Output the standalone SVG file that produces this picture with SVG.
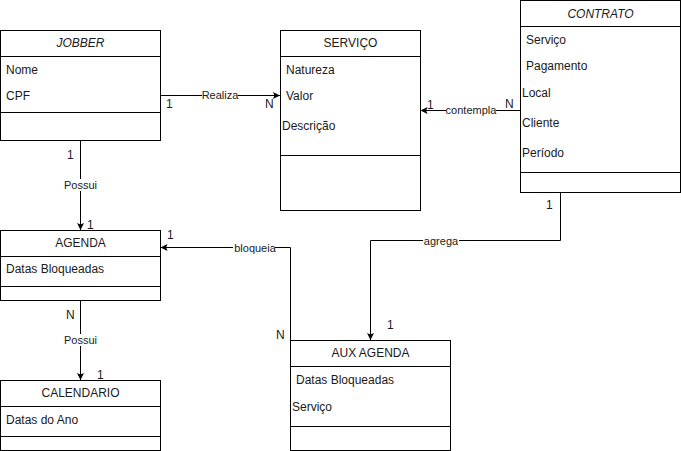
<svg xmlns="http://www.w3.org/2000/svg" width="681" height="451" viewBox="0 0 681 451">
<defs>
<marker id="arr" viewBox="0 0 10 10" refX="10" refY="5" markerWidth="7" markerHeight="7" markerUnits="userSpaceOnUse" orient="auto">
<path d="M0,0 L10,5 L0,10 L2,5 Z" fill="#000"/>
</marker>
<style>
.box{fill:#fff;stroke:#000;stroke-width:1}
.div{stroke:#000;stroke-width:1}
text{font-family:"Liberation Sans",Arial,sans-serif;font-size:12px;fill:#1a1a1a}
.t{text-anchor:middle}
.i{font-style:italic}
.lbl{font-size:11px;text-anchor:middle}
.edge{fill:none;stroke:#000;stroke-width:1}
.bg{fill:#fff}
</style>
</defs>
<rect width="681" height="451" fill="#fff"/>
<g id="connectors">
<path class="edge" d="M160.5,95.5 H280" marker-end="url(#arr)"/>
<rect class="bg" x="202" y="89" width="36" height="12"/>
<text class="lbl" x="220" y="99">Realiza</text>
<text x="166" y="108">1</text>
<text x="265" y="108">N</text>

<path class="edge" d="M520,110.5 H420.5" marker-end="url(#arr)"/>
<rect class="bg" x="446" y="104" width="50" height="12"/>
<text class="lbl" x="471" y="114">contempla</text>
<text x="427" y="109">1</text>
<text x="505" y="108">N</text>

<path class="edge" d="M80.5,140 V230" marker-end="url(#arr)"/>
<rect class="bg" x="62" y="179" width="36" height="12"/>
<text class="lbl" x="80.5" y="189">Possui</text>
<text x="67" y="159">1</text>
<text x="87" y="229">1</text>

<path class="edge" d="M80.5,301 V380" marker-end="url(#arr)"/>
<rect class="bg" x="62" y="334" width="36" height="12"/>
<text class="lbl" x="80.5" y="344">Possui</text>
<text x="66" y="319">N</text>
<text x="97" y="379">1</text>

<path class="edge" d="M290.5,340 V247.5 H160.5" marker-end="url(#arr)"/>
<rect class="bg" x="233" y="242" width="42" height="12"/>
<text class="lbl" x="255" y="252">bloqueia</text>
<text x="167" y="239">1</text>
<text x="276" y="339">N</text>

<path class="edge" d="M560.5,192 V240.5 H370.5 V340" marker-end="url(#arr)"/>
<rect class="bg" x="423" y="235" width="36" height="12"/>
<text class="lbl" x="441" y="245">agrega</text>
<text x="546" y="209">1</text>
<text x="387" y="329">1</text>
</g>

<g id="jobber">
<rect class="box" x="0.5" y="30.5" width="160" height="110"/>
<line class="div" x1="0.5" y1="56.5" x2="160.5" y2="56.5"/>
<line class="div" x1="0.5" y1="112.5" x2="160.5" y2="112.5"/>
<text class="t i" x="80.5" y="47">JOBBER</text>
<text x="6" y="74">Nome</text>
<text x="6" y="100">CPF</text>
</g>

<g id="servico">
<rect class="box" x="280.5" y="30.5" width="140" height="180"/>
<line class="div" x1="280.5" y1="56.5" x2="420.5" y2="56.5"/>
<line class="div" x1="280.5" y1="155.5" x2="420.5" y2="155.5"/>
<text class="t" x="350.5" y="47">SERVIÇO</text>
<text x="286" y="74">Natureza</text>
<text x="286" y="100">Valor</text>
<text x="282" y="130">Descrição</text>
</g>

<g id="contrato">
<rect class="box" x="520.5" y="0.5" width="160" height="192"/>
<line class="div" x1="520.5" y1="26.5" x2="680.5" y2="26.5"/>
<line class="div" x1="520.5" y1="172.5" x2="680.5" y2="172.5"/>
<text class="t i" x="600.5" y="18">CONTRATO</text>
<text x="526" y="44">Serviço</text>
<text x="526" y="70">Pagamento</text>
<text x="522" y="97">Local</text>
<text x="522" y="127">Cliente</text>
<text x="522" y="157">Período</text>
</g>

<g id="agenda">
<rect class="box" x="0.5" y="230.5" width="160" height="70"/>
<line class="div" x1="0.5" y1="256.5" x2="160.5" y2="256.5"/>
<line class="div" x1="0.5" y1="286.5" x2="160.5" y2="286.5"/>
<text class="t" x="80.5" y="247">AGENDA</text>
<text x="6" y="273">Datas Bloqueadas</text>
</g>

<g id="calendario">
<rect class="box" x="0.5" y="380.5" width="160" height="70"/>
<line class="div" x1="0.5" y1="406.5" x2="160.5" y2="406.5"/>
<line class="div" x1="0.5" y1="436.5" x2="160.5" y2="436.5"/>
<text class="t" x="80.5" y="397">CALENDARIO</text>
<text x="6" y="424">Datas do Ano</text>
</g>

<g id="aux-agenda">
<rect class="box" x="290.5" y="340.5" width="160" height="110"/>
<line class="div" x1="290.5" y1="366.5" x2="450.5" y2="366.5"/>
<line class="div" x1="290.5" y1="426.5" x2="450.5" y2="426.5"/>
<text class="t" x="370.5" y="357">AUX AGENDA</text>
<text x="296" y="384">Datas Bloqueadas</text>
<text x="292" y="411">Serviço</text>
</g>
</svg>
